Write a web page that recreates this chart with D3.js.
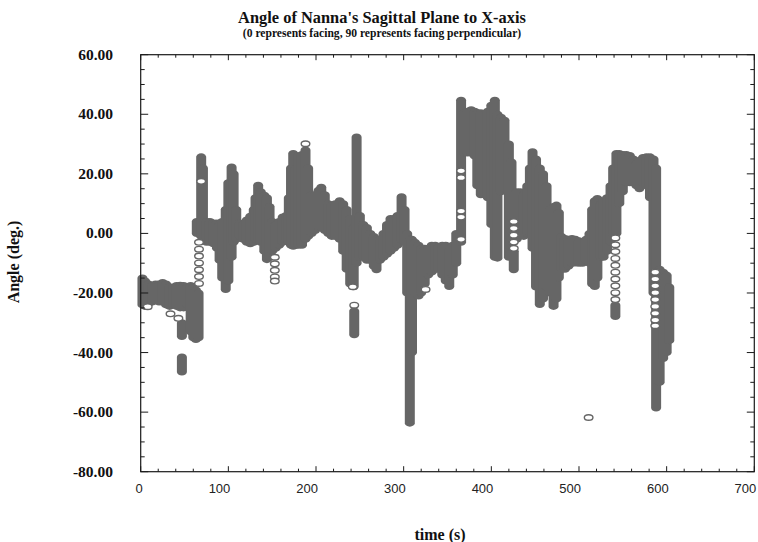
<!DOCTYPE html>
<html>
<head>
<meta charset="utf-8">
<script src="https://cdn.jsdelivr.net/npm/d3@7"></script>
<style>
  html, body { margin: 0; padding: 0; background: #fff; }
  svg { display: block; }
</style>
</head>
<body>
<svg id="chart" width="758" height="542"></svg>
<script>
// ---- Data ----
// Observed angle ranges of the dense marker streak: time (s), lowest and highest angle (deg.)
const rangeTime = [2,5,9,13,17,21,25,29,33,37,41,45,47,47,49,53,57,60,63,66,64,69,71,75,79,83,87,90,93,97,100,103.7,106,109,113,117,121,125,129,131,134,137,141,144,147,150,154,158,162,166,169,171.5,174,177,180,184,188,191,195,199,203,206,210,214,218,222,227,231,235,239,243,243.6,246.3,250,254,258,262,266,269,273,277,281,285,289,293,297.6,301,304,307,309.5,313,317,320,324,328,332,336,340,344,348,352,356,360,365.5,369,373,377,381,384,388,392,396,400,404,407,411,415,420,423,425.6,429,433,437,441,444,447,451,455.3,459,463,467,471,474.3,477,480,484,488,492,496,500,504,508,512,515,518,521,525,528,532,536,539,541.5,542.7,546,550,554,558,562,565.5,569,573,577,581,585,588,592,596,600,603];
const rangeLow = [-24,-24.5,-23.5,-23,-22.5,-23,-23,-24,-24.5,-24,-24.5,-25,-34.6,-46.5,-25,-24,-33,-35,-35.6,-35,0,-1,-2,-3,-3,-3.5,-5,-9,-15,-18.8,-16,-8,-3,-2,-1,-2,-3,-3.5,-3,-2,-2,-3,-6,-8.8,-8,-6,-5,-4,-3,-2,-3,-4,-4.3,-4,-4,-4,-2,-1,0,1,2,2,1,0,-1,-1,-2,-6,-12,-17,-17.9,-34,-10,-8,-8,-9,-9,-11,-12.2,-9,-8,-7,-6,-5,-4,-2.1,-3,-20,-63.7,-40,-20,-21,-20,-17,-14,-13,-12,-12,-14,-16,-17.8,-14,-10,-3,27,27,27,26,16,13,13,12,3,-8,-8.3,14,15,-8,6,-12.2,-2,0,-1,0,0,-5,-18,-23.9,-22,-18,-20,-24.5,-22,-15,-12,-12,-11,-10,-9.9,-10,-10,-9,-10,-17,-17.8,-15,-8,-8,-6,-3,0,-27.9,0,10,14,17,17,17,16,15,17,16,12,-20,-58.6,-50,-42,-40,-36];
const rangeHigh = [-15,-16,-17,-17.5,-17,-17,-16.5,-17,-18,-18,-17.5,-17.4,-30,-41.5,-17.5,-18,-17.5,-18,-19,-20,4,25.7,22,4,4,3.5,3.5,3,4,8,17,22.3,20,8,3.5,3,4.5,5.8,8,12,16.2,14,12.8,12,9,4,3,4,5.5,6,12,22,26.8,22,26,26.5,28,22,13,13,14.5,15.5,13,10,9.5,10,11,10,8,5,2,-26,32.4,6,3,2,0,-1,-2,-2,0,3,5,5,6,12.3,8,0,-2,-2,-3,-4,-5,-5,-5,-4,-4,-4.5,-4,-4,-6,-4,0,44.7,40.5,41,41.5,41,40.5,40.5,40,41,43,44.7,40,39,38,30,24,-6,14,14,13,16,22,27.4,25,22,20,16,8,9,9.5,7,-1,-1.7,-2,-1.7,-2,-2.5,-3,-2,0,8,11,11.7,10,11,12,16,22,-24,26.8,26.8,26.5,26.5,26.2,25,23.4,24.5,25.5,25.7,25.7,25,22,-12,-13,-14,-18];

// Individually visible (hollow) markers: time (s), angle (deg.)
const openTime = [8,34,43,66.5,66.5,66.5,66.5,66.5,66.5,66.5,69,153,153,153,153,153,188,242,243.6,325,365.5,365.5,365.5,365.5,365.5,425.6,425.6,425.6,425.6,425.6,511,541.5,541.5,541.5,541.5,541.5,541.5,541.5,541.5,541.5,541.5,587,587,587,587,587,587,587,587,587];
const openAngle = [-24.6,-27,-28.5,-3,-5.3,-7.6,-9.9,-12.2,-14.5,-16.8,17.5,-8,-10.2,-12.4,-14.6,-16,30.1,-17.9,-24.1,-18.8,21,18.7,7.5,5.5,-2,4,1.7,-0.6,-2.9,-5,-61.8,-1.5,-3.8,-6.1,-8.4,-10.7,-13,-15.3,-17.6,-19.9,-22.2,-13,-15.3,-17.6,-19.9,-22.2,-24.5,-26.8,-29.1,-31];

const xMajorTicks = [0,100,200,300,400,500,600,700];
const xTickLabels = ["0","100","200","300","400","500","600","700"];
const yMajorTicks = [-80,-60,-40,-20,0,20,40,60];
const yTickLabels = ["-80.00","-60.00","-40.00","-20.00","0.00","20.00","40.00","60.00"];

const titleText = "Angle of Nanna's Sagittal Plane to X-axis";
const subtitleText = "(0 represents facing, 90 represents facing perpendicular)";
const xTitle = "time (s)";
const yTitle = "Angle (deg.)";

// ---- Layout ----
const svg = d3.select("#chart");
const L = 140.7, R = 754.3, T = 54.7, B = 471.7;
const x = d3.scaleLinear().domain([0, 700]).range([L, R]);
const y = d3.scaleLinear().domain([-80, 60]).range([B, T]);
const GRAY = "#666666";
const AX = "#1a1a1a";
const serif = "'Liberation Serif', 'Times New Roman', Times, serif";
const sans = "'Liberation Sans', Arial, Helvetica, sans-serif";

// ---- Marks ----
const rw = 10, rh = 7;
const ranges = rangeTime.map((t, i) => ({t, lo: rangeLow[i], hi: rangeHigh[i]}));
svg.append("g").selectAll("rect").data(ranges).join("rect")
  .attr("x", d => x(d.t) - rw / 2)
  .attr("y", d => y(d.hi) - rh / 2)
  .attr("width", rw)
  .attr("height", d => y(d.lo) - y(d.hi) + rh)
  .attr("rx", rw / 2).attr("ry", rh / 2)
  .attr("fill", GRAY);

const opens = openTime.map((t, i) => ({t, a: openAngle[i]}));
svg.append("g").selectAll("ellipse").data(opens).join("ellipse")
  .attr("cx", d => x(d.t)).attr("cy", d => y(d.a))
  .attr("rx", 4.3).attr("ry", 2.8)
  .attr("fill", "#fff").attr("stroke", GRAY).attr("stroke-width", 1.4);

// ---- Frame and ticks ----
const ax = svg.append("g").attr("stroke", AX).attr("fill", "none");
ax.append("rect").attr("x", L).attr("y", T).attr("width", R - L).attr("height", B - T).attr("stroke-width", 1.2);

const xMinor = d3.range(0, 701, 20).filter(v => v % 100 !== 0);
const yMinor = d3.range(-80, 61, 5).filter(v => v % 20 !== 0);
function xt(v, len) {
  ax.append("line").attr("x1", x(v)).attr("x2", x(v)).attr("y1", B).attr("y2", B - len);
  ax.append("line").attr("x1", x(v)).attr("x2", x(v)).attr("y1", T).attr("y2", T + len);
}
function yt(v, len) {
  ax.append("line").attr("y1", y(v)).attr("y2", y(v)).attr("x1", L).attr("x2", L + len);
  ax.append("line").attr("y1", y(v)).attr("y2", y(v)).attr("x1", R).attr("x2", R - len);
}
xMajorTicks.forEach(v => xt(v, 5.5));
xMinor.forEach(v => xt(v, 3));
yMajorTicks.forEach(v => yt(v, 7.5));
yMinor.forEach(v => yt(v, 4));

// ---- Tick labels ----
svg.append("g").selectAll("text").data(xMajorTicks).join("text")
  .attr("x", d => x(d) + 2).attr("y", 493)
  .attr("text-anchor", "end")
  .attr("font-family", sans).attr("font-size", 13).attr("fill", "#222")
  .text((d, i) => xTickLabels[i]);

svg.append("g").selectAll("text").data(yMajorTicks).join("text")
  .attr("x", 113).attr("y", d => y(d) + 5)
  .attr("text-anchor", "end")
  .attr("font-family", serif).attr("font-weight", "bold").attr("font-size", 15.5).attr("fill", "#111")
  .text((d, i) => yTickLabels[i]);

// ---- Titles ----
svg.append("text").attr("x", 382).attr("y", 23).attr("text-anchor", "middle")
  .attr("font-family", serif).attr("font-weight", "bold").attr("font-size", 16.4).attr("fill", "#111")
  .text(titleText);
svg.append("text").attr("x", 382).attr("y", 37).attr("text-anchor", "middle")
  .attr("font-family", serif).attr("font-weight", "bold").attr("font-size", 11.6).attr("fill", "#111")
  .text(subtitleText);
svg.append("text").attr("x", 440).attr("y", 540).attr("text-anchor", "middle")
  .attr("font-family", serif).attr("font-weight", "bold").attr("font-size", 16).attr("fill", "#111")
  .text(xTitle);
svg.append("text").attr("transform", "translate(19,262) rotate(-90)").attr("text-anchor", "middle")
  .attr("font-family", serif).attr("font-weight", "bold").attr("font-size", 16).attr("fill", "#111")
  .text(yTitle);
</script>
</body>
</html>
